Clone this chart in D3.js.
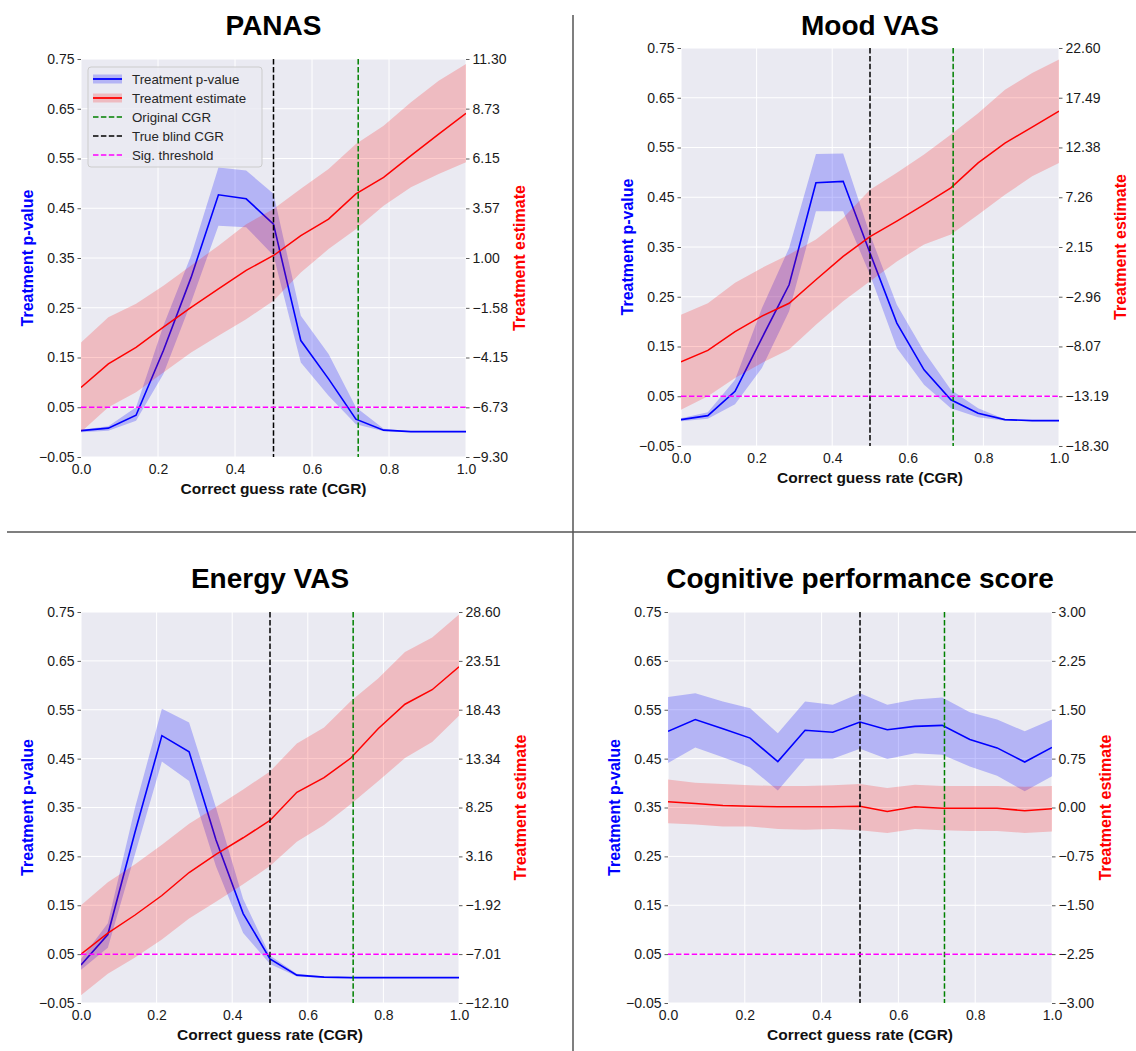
<!DOCTYPE html>
<html>
<head>
<meta charset="utf-8">
<script src="https://d3js.org/d3.v7.min.js"></script>
<style>
body { margin: 0; background: #fff; }
svg { display: block; font-family: "Liberation Sans", Arial, sans-serif; }
</style>
</head>
<body>
<svg id="fig" width="1136" height="1051"></svg>
<script>
// correct guess rate grid (x)
const cgr = [0, 0.071, 0.143, 0.214, 0.286, 0.357, 0.429, 0.5, 0.571, 0.643, 0.714, 0.786, 0.857, 0.929, 1.0];
const cgrTicks = [0, 0.2, 0.4, 0.6, 0.8, 1.0];
const pTicks = [-0.05, 0.05, 0.15, 0.25, 0.35, 0.45, 0.55, 0.65, 0.75];
const trueBlindCGR = 0.5, originalCGR = 0.72, sigThreshold = 0.05;

// PANAS
const panasP    = [0.003, 0.008, 0.034, 0.164, 0.311, 0.477, 0.469, 0.418, 0.184, 0.107, 0.026, 0.004, 0.001, 0.001, 0.001];
const panasPLo  = [0.000, 0.003, 0.023, 0.117, 0.261, 0.415, 0.412, 0.355, 0.140, 0.073, 0.016, 0.002, 0.000, 0.000, 0.000];
const panasPHi  = [0.005, 0.012, 0.050, 0.214, 0.355, 0.532, 0.526, 0.479, 0.234, 0.157, 0.050, 0.007, 0.002, 0.002, 0.002];
const panasEst   = [-5.70, -4.48, -3.63, -2.58, -1.55, -0.60, 0.36, 1.13, 2.16, 3.01, 4.32, 5.17, 6.30, 7.41, 8.49];
const panasEstLo = [-8.01, -6.73, -5.95, -4.92, -3.89, -3.02, -2.17, -1.21, 0.25, 1.46, 2.49, 3.70, 4.66, 5.35, 5.95];
const panasEstHi = [-3.38, -2.07, -1.37, -0.44, 0.61, 1.64, 2.75, 3.54, 4.58, 5.61, 6.90, 7.85, 9.06, 10.17, 11.04];
const panasEstTicks = [-9.30, -6.73, -4.15, -1.58, 1.00, 3.57, 6.15, 8.73, 11.30];

// Mood VAS
const moodP    = [0.003, 0.011, 0.060, 0.167, 0.274, 0.479, 0.482, 0.338, 0.197, 0.103, 0.043, 0.016, 0.003, 0.001, 0.001];
const moodPLo  = [0.000, 0.005, 0.034, 0.107, 0.221, 0.422, 0.422, 0.294, 0.147, 0.073, 0.026, 0.008, 0.001, 0.000, 0.000];
const moodPHi  = [0.006, 0.018, 0.083, 0.227, 0.348, 0.537, 0.538, 0.375, 0.234, 0.140, 0.063, 0.026, 0.004, 0.002, 0.002];
const moodEst   = [-9.66, -8.48, -6.54, -4.96, -3.63, -1.22, 1.18, 3.22, 4.81, 6.50, 8.23, 10.79, 12.83, 14.47, 16.11];
const moodEstLo = [-14.57, -13.19, -11.30, -9.76, -8.38, -5.83, -3.42, -1.38, 0.67, 2.41, 3.43, 5.47, 7.52, 9.41, 10.79];
const moodEstHi = [-4.80, -3.63, -1.53, 0.00, 1.38, 2.92, 5.12, 8.03, 9.77, 11.66, 13.70, 15.90, 18.31, 20.04, 21.42];
const moodEstTicks = [-18.30, -13.19, -8.07, -2.96, 2.15, 7.26, 12.38, 17.49, 22.60];

// Energy VAS
const energyP    = [0.028, 0.090, 0.300, 0.497, 0.464, 0.284, 0.133, 0.040, 0.007, 0.003, 0.002, 0.002, 0.002, 0.002, 0.002];
const energyPLo  = [0.018, 0.063, 0.255, 0.444, 0.404, 0.230, 0.093, 0.030, 0.004, 0.001, 0.001, 0.001, 0.001, 0.001, 0.001];
const energyPHi  = [0.040, 0.113, 0.350, 0.552, 0.524, 0.350, 0.163, 0.047, 0.010, 0.004, 0.003, 0.003, 0.003, 0.003, 0.003];
const energyEst   = [-7.01, -4.82, -2.94, -0.91, 1.48, 3.37, 5.10, 6.90, 9.83, 11.35, 13.40, 16.44, 19.00, 20.51, 22.90];
const energyEstLo = [-11.29, -9.05, -7.37, -5.49, -3.30, -1.57, 0.26, 2.15, 4.69, 6.42, 8.61, 10.99, 13.39, 15.07, 17.80];
const energyEstHi = [-1.93, 0.47, 2.35, 4.38, 6.57, 8.30, 10.13, 12.01, 14.91, 16.59, 19.34, 21.68, 24.43, 25.95, 28.35];
const energyEstTicks = [-12.10, -7.01, -1.92, 3.16, 8.25, 13.34, 18.43, 23.51, 28.60];

// Cognitive performance score
const cogP    = [0.506, 0.530, 0.511, 0.492, 0.444, 0.508, 0.504, 0.525, 0.509, 0.516, 0.518, 0.489, 0.472, 0.443, 0.473];
const cogPLo  = [0.441, 0.473, 0.453, 0.432, 0.385, 0.450, 0.450, 0.470, 0.449, 0.461, 0.458, 0.434, 0.415, 0.383, 0.414];
const cogPHi  = [0.576, 0.584, 0.567, 0.553, 0.502, 0.567, 0.560, 0.584, 0.560, 0.571, 0.575, 0.545, 0.530, 0.506, 0.530];
const cogEst   = [0.09, 0.06, 0.03, 0.02, 0.01, 0.01, 0.01, 0.02, -0.06, 0.01, -0.01, -0.01, -0.01, -0.05, -0.02];
const cogEstLo = [-0.24, -0.26, -0.29, -0.29, -0.33, -0.34, -0.33, -0.35, -0.39, -0.33, -0.35, -0.36, -0.36, -0.39, -0.37];
const cogEstHi = [0.43, 0.38, 0.36, 0.34, 0.33, 0.33, 0.34, 0.36, 0.30, 0.35, 0.33, 0.33, 0.33, 0.32, 0.33];
const cogEstTicks = [-3.00, -2.25, -1.50, -0.75, 0.00, 0.75, 1.50, 2.25, 3.00];

const legendLabels = ["Treatment p-value", "Treatment estimate", "Original CGR", "True blind CGR", "Sig. threshold"];

// layout of the four panels
let panels = [
  {title: "PANAS", p: panasP, pLo: panasPLo, pHi: panasPHi, est: panasEst, estLo: panasEstLo, estHi: panasEstHi, estTicks: panasEstTicks,
   x0: 81, x1: 466, y0: 59, y1: 457, titleY: 35, legend: true},
  {title: "Mood VAS", p: moodP, pLo: moodPLo, pHi: moodPHi, est: moodEst, estLo: moodEstLo, estHi: moodEstHi, estTicks: moodEstTicks,
   x0: 681, x1: 1059, y0: 48, y1: 446, titleY: 35},
  {title: "Energy VAS", p: energyP, pLo: energyPLo, pHi: energyPHi, est: energyEst, estLo: energyEstLo, estHi: energyEstHi, estTicks: energyEstTicks,
   x0: 81, x1: 459, y0: 612, y1: 1003, titleY: 588},
  {title: "Cognitive performance score", p: cogP, pLo: cogPLo, pHi: cogPHi, est: cogEst, estLo: cogEstLo, estHi: cogEstHi, estTicks: cogEstTicks,
   x0: 668, x1: 1052, y0: 612, y1: 1003, titleY: 588}
];

let svg = d3.select("#fig");
let fmt2 = d3.format(".2f");

// dividers between panels
svg.append("line").attr("x1", 573).attr("x2", 573).attr("y1", 15).attr("y2", 1051)
  .attr("stroke", "#555").attr("stroke-width", 1.5);
svg.append("line").attr("x1", 7).attr("x2", 1136).attr("y1", 532).attr("y2", 532)
  .attr("stroke", "#555").attr("stroke-width", 1.5);

function styleAxis(g) {
  g.select(".domain").remove();
  g.selectAll(".tick line").attr("stroke", "#333").attr("stroke-width", 0.8);
  g.selectAll(".tick text").attr("font-size", 14).attr("fill", "#1a1a1a")
    .attr("font-family", "Liberation Sans, Arial, sans-serif");
}

panels.forEach((cfg, pi) => {
  let g = svg.append("g");
  let x = d3.scaleLinear().domain([0, 1]).range([cfg.x0, cfg.x1]);
  let y = d3.scaleLinear().domain([-0.05, 0.75]).range([cfg.y1, cfg.y0]);
  let y2 = d3.scaleLinear()
    .domain([cfg.estTicks[0], cfg.estTicks[cfg.estTicks.length - 1]])
    .range([cfg.y1, cfg.y0]);

  let clipId = "clip" + pi;
  svg.append("clipPath").attr("id", clipId).append("rect")
    .attr("x", cfg.x0).attr("y", cfg.y0)
    .attr("width", cfg.x1 - cfg.x0).attr("height", cfg.y1 - cfg.y0);

  g.append("rect")
    .attr("x", cfg.x0).attr("y", cfg.y0)
    .attr("width", cfg.x1 - cfg.x0).attr("height", cfg.y1 - cfg.y0)
    .attr("fill", "#EAEAF2");

  // grid
  g.selectAll(".gx").data(cgrTicks).join("line")
    .attr("x1", d => x(d)).attr("x2", d => x(d))
    .attr("y1", cfg.y0).attr("y2", cfg.y1)
    .attr("stroke", "#fff").attr("stroke-width", 1);
  g.selectAll(".gy").data(pTicks).join("line")
    .attr("x1", cfg.x0).attr("x2", cfg.x1)
    .attr("y1", d => y(d)).attr("y2", d => y(d))
    .attr("stroke", "#fff").attr("stroke-width", 1);

  let plot = g.append("g").attr("clip-path", "url(#" + clipId + ")");

  // p-value band + line
  let pArea = d3.area().x((d, i) => x(cgr[i])).y0((d, i) => y(cfg.pLo[i])).y1((d, i) => y(cfg.pHi[i]));
  let pLine = d3.line().x((d, i) => x(cgr[i])).y(d => y(d));
  plot.append("path").datum(cfg.p).attr("d", pArea).attr("fill", "blue").attr("fill-opacity", 0.23);
  plot.append("path").datum(cfg.p).attr("d", pLine).attr("fill", "none").attr("stroke", "blue").attr("stroke-width", 1.6);

  // estimate band + line (twin axis)
  let eArea = d3.area().x((d, i) => x(cgr[i])).y0((d, i) => y2(cfg.estLo[i])).y1((d, i) => y2(cfg.estHi[i]));
  let eLine = d3.line().x((d, i) => x(cgr[i])).y(d => y2(d));
  plot.append("path").datum(cfg.est).attr("d", eArea).attr("fill", "red").attr("fill-opacity", 0.2);
  plot.append("path").datum(cfg.est).attr("d", eLine).attr("fill", "none").attr("stroke", "red").attr("stroke-width", 1.5);

  // reference lines
  plot.append("line").attr("x1", x(originalCGR)).attr("x2", x(originalCGR)).attr("y1", cfg.y0).attr("y2", cfg.y1)
    .attr("stroke", "green").attr("stroke-width", 1.5).attr("stroke-dasharray", "5.5,2.4");
  plot.append("line").attr("x1", x(trueBlindCGR)).attr("x2", x(trueBlindCGR)).attr("y1", cfg.y0).attr("y2", cfg.y1)
    .attr("stroke", "black").attr("stroke-width", 1.5).attr("stroke-dasharray", "5.5,2.4");
  plot.append("line").attr("x1", cfg.x0).attr("x2", cfg.x1).attr("y1", y(sigThreshold)).attr("y2", y(sigThreshold))
    .attr("stroke", "#FF00FF").attr("stroke-width", 1.5).attr("stroke-dasharray", "5.5,2.4");

  // axes
  let axL = g.append("g").attr("transform", "translate(" + cfg.x0 + ",0)")
    .call(d3.axisLeft(y).tickValues(pTicks).tickFormat(fmt2).tickSize(3.5).tickPadding(3));
  styleAxis(axL);
  let axR = g.append("g").attr("transform", "translate(" + cfg.x1 + ",0)")
    .call(d3.axisRight(y2).tickValues(cfg.estTicks).tickFormat(fmt2).tickSize(3.5).tickPadding(3));
  styleAxis(axR);
  let axB = g.append("g").attr("transform", "translate(0," + cfg.y1 + ")")
    .call(d3.axisBottom(x).tickValues(cgrTicks).tickFormat(d3.format(".1f")).tickSize(0).tickPadding(7));
  styleAxis(axB);

  let wL = d3.max(axL.selectAll(".tick text").nodes(), n => n.getBBox().width);
  let wR = d3.max(axR.selectAll(".tick text").nodes(), n => n.getBBox().width);
  let yMid = (cfg.y0 + cfg.y1) / 2;

  // axis labels
  g.append("text")
    .attr("transform", "translate(" + (cfg.x0 - 7 - wL - 11) + "," + yMid + ") rotate(-90)")
    .attr("text-anchor", "middle").attr("dy", "0.35em")
    .attr("font-size", 16).attr("font-weight", "bold").attr("fill", "blue")
    .text("Treatment p-value");
  g.append("text")
    .attr("transform", "translate(" + (cfg.x1 + 7 + wR + 11) + "," + yMid + ") rotate(-90)")
    .attr("text-anchor", "middle").attr("dy", "0.35em")
    .attr("font-size", 16).attr("font-weight", "bold").attr("fill", "red")
    .text("Treatment estimate");
  g.append("text")
    .attr("x", (cfg.x0 + cfg.x1) / 2).attr("y", cfg.y1 + 37)
    .attr("text-anchor", "middle")
    .attr("font-size", 15.5).attr("font-weight", "bold").attr("fill", "#111")
    .text("Correct guess rate (CGR)");

  // title
  g.append("text")
    .attr("x", (cfg.x0 + cfg.x1) / 2).attr("y", cfg.titleY)
    .attr("text-anchor", "middle")
    .attr("font-size", 28).attr("font-weight", "bold").attr("fill", "#000")
    .text(cfg.title);

  if (cfg.legend) {
    let lx = cfg.x0 + 7, ly = cfg.y0 + 8;
    let lg = g.append("g");
    lg.append("rect").attr("x", lx).attr("y", ly).attr("width", 174).attr("height", 100).attr("rx", 3)
      .attr("fill", "#EAEAF2").attr("fill-opacity", 0.85).attr("stroke", "#cccccc").attr("stroke-width", 1);
    let colors = ["blue", "red", "green", "black", "#FF00FF"];
    legendLabels.forEach((lab, i) => {
      let cy = ly + 12 + i * 19;
      if (i < 2) {
        lg.append("rect").attr("x", lx + 5).attr("y", cy - 4.5).attr("width", 29).attr("height", 9)
          .attr("fill", colors[i]).attr("fill-opacity", i == 0 ? 0.23 : 0.2);
        lg.append("line").attr("x1", lx + 5).attr("x2", lx + 34).attr("y1", cy).attr("y2", cy)
          .attr("stroke", colors[i]).attr("stroke-width", 1.8);
      } else {
        lg.append("line").attr("x1", lx + 5).attr("x2", lx + 34).attr("y1", cy).attr("y2", cy)
          .attr("stroke", colors[i]).attr("stroke-width", 1.5).attr("stroke-dasharray", "5.5,2.4");
      }
      lg.append("text").attr("x", lx + 44).attr("y", cy).attr("dy", "0.35em")
        .attr("font-size", 13.3).attr("fill", "#262626").text(lab);
    });
  }
});
</script>
</body>
</html>
